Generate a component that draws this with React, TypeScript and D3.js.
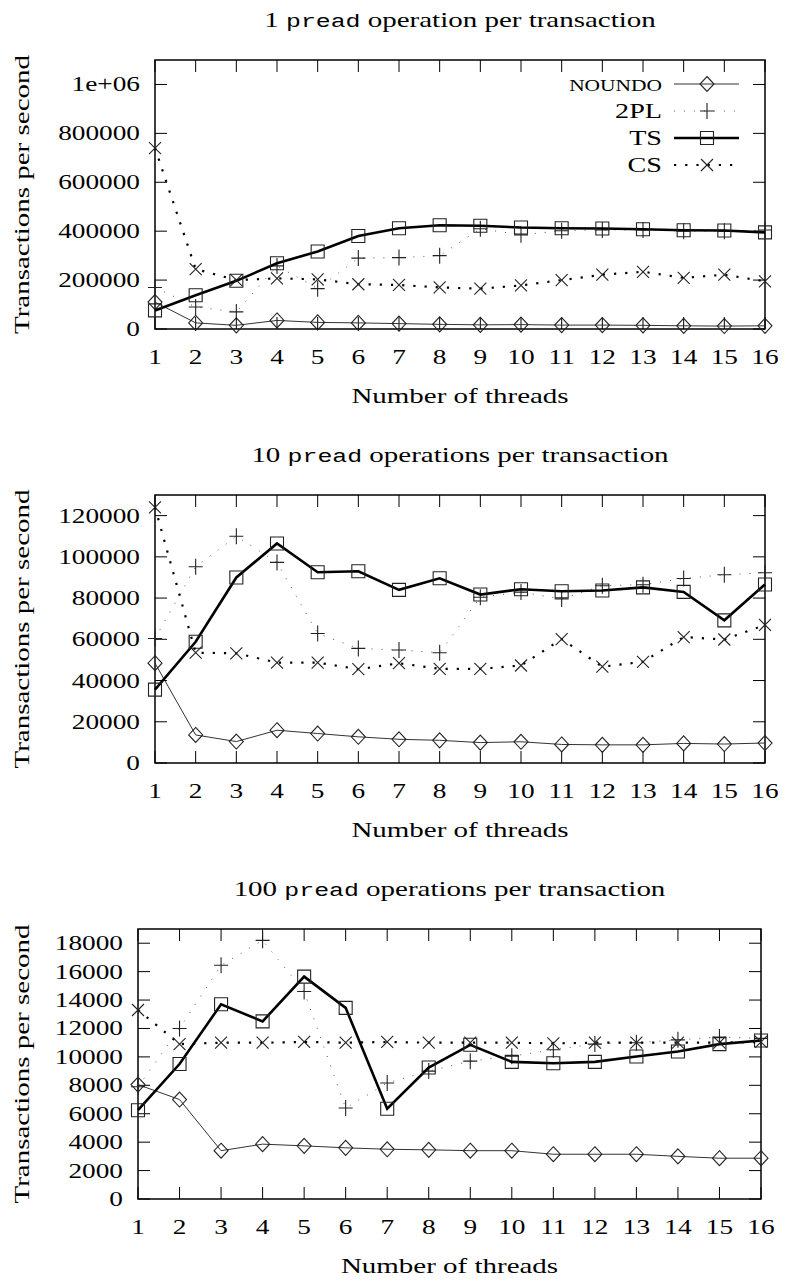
import React from "react";
import * as d3 from "d3";

const threads = [1, 2, 3, 4, 5, 6, 7, 8, 9, 10, 11, 12, 13, 14, 15, 16];
const seriesNames = ["NOUNDO", "2PL", "TS", "CS"];

// Panel 1: 1 pread operation per transaction
const p1Noundo = [110000, 25000, 15000, 35000, 27000, 25000, 22000, 19000, 17000, 18000, 16000, 16000, 15000, 13000, 12000, 13000];
const p1TwoPL = [170000, 90000, 70000, 258000, 165000, 290000, 292000, 300000, 410000, 385000, 402000, 405000, 405000, 400000, 400000, 405000];
const p1TS = [76000, 138000, 197000, 269000, 317000, 380000, 412000, 424000, 422000, 415000, 412000, 411000, 408000, 404000, 403000, 395000];
const p1CS = [740000, 245000, 200000, 207000, 203000, 183000, 180000, 170000, 165000, 178000, 200000, 222000, 234000, 209000, 222000, 195000];
const p1Ticks = [0, 200000, 400000, 600000, 800000, 1000000];
const p1TickLabels = ["0", "200000", "400000", "600000", "800000", "1e+06"];

// Panel 2: 10 pread operations per transaction
const p2Noundo = [48400, 13600, 10400, 15900, 14300, 12700, 11500, 11000, 9900, 10300, 9000, 8800, 8800, 9500, 9200, 9700];
const p2TwoPL = [60400, 95200, 110000, 97300, 62800, 55600, 54800, 53500, 80400, 82900, 79600, 86000, 86500, 89500, 91300, 92300];
const p2TS = [35600, 58800, 90000, 106500, 92500, 93000, 84000, 89600, 81700, 84300, 83300, 83700, 85200, 83000, 69200, 86600];
const p2CS = [124000, 53500, 53200, 48700, 48700, 45500, 48400, 45700, 45700, 47300, 60100, 46700, 49100, 61100, 59900, 67000];
const p2Ticks = [0, 20000, 40000, 60000, 80000, 100000, 120000];
const p2TickLabels = ["0", "20000", "40000", "60000", "80000", "100000", "120000"];

// Panel 3: 100 pread operations per transaction
const p3Noundo = [8050, 7000, 3400, 3860, 3740, 3600, 3500, 3460, 3400, 3400, 3150, 3150, 3150, 3000, 2870, 2870];
const p3TwoPL = [7900, 12000, 16450, 18200, 14600, 6400, 8160, 9000, 9700, 10050, 10500, 10900, 11000, 11200, 11400, 11300];
const p3TS = [6250, 9500, 13700, 12500, 15650, 13450, 6350, 9250, 10850, 9650, 9550, 9650, 10030, 10380, 10900, 11150];
const p3CS = [13300, 10900, 11000, 11000, 11050, 11000, 11050, 11000, 11000, 11000, 10950, 11000, 11000, 11000, 11000, 11050];
const p3Ticks = [0, 2000, 4000, 6000, 8000, 10000, 12000, 14000, 16000, 18000];
const p3TickLabels = ["0", "2000", "4000", "6000", "8000", "10000", "12000", "14000", "16000", "18000"];

const titleNumbers = ["1", "10", "100"];
const titleRests = [" operation per transaction", " operations per transaction", " operations per transaction"];
const xAxisTitle = "Number of threads";
const yAxisTitle = "Transactions per second";

const SERIF = "Liberation Serif";
const MONO = "Liberation Mono";
const SX_DIGITS = 1.3;
const SX_WORDS = 1.38;
const SX_LEGEND = 1.34;
const FS = 21;

const styles = [
  { stroke: "#333", width: 1, dash: undefined as string | undefined, marker: "diamond" },
  { stroke: "#555", width: 1, dash: "1 9", marker: "plus" },
  { stroke: "#000", width: 2.6, dash: undefined as string | undefined, marker: "square" },
  { stroke: "#000", width: 2.2, dash: "2.2 9", marker: "cross" },
];

function markerPath(kind: string): string {
  switch (kind) {
    case "diamond":
      return "M0,-7.5L7,0L0,7.5L-7,0Z";
    case "plus":
      return "M-7,0H7M0,-8V8";
    case "square":
      return "M-6.5,-6.5H6.5V6.5H-6.5Z";
    default:
      return "M-6,-6L6,6M-6,6L6,-6";
  }
}

function T(props: { x: number; y: number; anchor?: string; size?: number; rotate?: number; sx: number; children: React.ReactNode }) {
  const { x, y, anchor = "middle", size = FS, rotate = 0, sx, children } = props;
  return (
    <text
      transform={`translate(${x},${y}) rotate(${rotate}) scale(${sx},1)`}
      textAnchor={anchor}
      fontFamily={SERIF}
      fontSize={size}
      fill="#000"
    >
      {children}
    </text>
  );
}

type PanelProps = {
  idx: number;
  left: number;
  right: number;
  top: number;
  bottom: number;
  yMax: number;
  series: number[][];
  ticks: number[];
  tickLabels: string[];
  legend: boolean;
};

function Panel({ idx, left, right, top, bottom, yMax, series, ticks, tickLabels, legend }: PanelProps) {
  const x = d3.scaleLinear().domain([1, 16]).range([left, right]);
  const y = d3.scaleLinear().domain([0, yMax]).range([bottom, top]);
  const line = d3
    .line<number>()
    .x((_, i) => x(threads[i]))
    .y((d) => y(d));
  const tl = 12;
  const cx = (left + right) / 2;
  const cy = (top + bottom) / 2;

  return (
    <g>
      <T sx={SX_WORDS} x={cx} y={top - 33}>
        {titleNumbers[idx]} <tspan fontFamily={MONO} fontSize={18}>pread</tspan>
        {titleRests[idx]}
      </T>
      <T sx={SX_WORDS} x={29} y={cy} rotate={-90}>
        {yAxisTitle}
      </T>
      <T sx={SX_WORDS} x={cx} y={bottom + 74}>
        {xAxisTitle}
      </T>
      {ticks.map((t, i) => (
        <g key={"yt" + i}>
          <line x1={left} x2={left + tl} y1={y(t)} y2={y(t)} stroke="#000" strokeWidth={1} />
          <line x1={right} x2={right - tl} y1={y(t)} y2={y(t)} stroke="#000" strokeWidth={1} />
          <T sx={SX_DIGITS} x={left - 15} y={y(t) + 7} anchor="end">
            {tickLabels[i]}
          </T>
        </g>
      ))}
      {threads.map((t) => (
        <g key={"xt" + t}>
          <line x1={x(t)} x2={x(t)} y1={bottom} y2={bottom - tl} stroke="#000" strokeWidth={1} />
          <line x1={x(t)} x2={x(t)} y1={top} y2={top + tl} stroke="#000" strokeWidth={1} />
          <T sx={SX_DIGITS} x={x(t)} y={bottom + 35}>
            {String(t)}
          </T>
        </g>
      ))}
      <rect x={left} y={top} width={right - left} height={bottom - top} fill="none" stroke="#000" strokeWidth={1.5} />
      {series.map((vals, si) => {
        const st = styles[si];
        return (
          <g key={"s" + si}>
            <path d={line(vals) || ""} fill="none" stroke={st.stroke} strokeWidth={st.width} strokeDasharray={st.dash} />
            {vals.map((v, i) => (
              <path
                key={i}
                d={markerPath(st.marker)}
                transform={`translate(${x(threads[i])},${y(v)})`}
                fill="none"
                stroke="#222"
                strokeWidth={1.1}
              />
            ))}
          </g>
        );
      })}
      {legend &&
        seriesNames.map((name, si) => {
          const st = styles[si];
          const ly = top + 24 + si * 27;
          const lx0 = right - 91;
          const lx1 = right - 26;
          const lm = right - 58;
          return (
            <g key={"lg" + si}>
              <T sx={SX_LEGEND} x={right - 103} y={ly + 7} anchor="end" size={si === 0 ? 16 : FS}>
                {name}
              </T>
              <line x1={lx0} x2={lx1} y1={ly} y2={ly} stroke={st.stroke} strokeWidth={st.width} strokeDasharray={st.dash} />
              <path d={markerPath(st.marker)} transform={`translate(${lm},${ly})`} fill="none" stroke="#222" strokeWidth={1.1} />
            </g>
          );
        })}
    </g>
  );
}

export default function App() {
  return (
    <svg width={786} height={1282} style={{ display: "block", background: "#fff", marginLeft: -8, marginTop: -8 }}>
      <rect width={786} height={1282} fill="#fff" />
      <Panel idx={0} left={155} right={765} top={60} bottom={329} yMax={1100000}
        series={[p1Noundo, p1TwoPL, p1TS, p1CS]} ticks={p1Ticks} tickLabels={p1TickLabels} legend={true} />
      <Panel idx={1} left={155} right={765} top={495} bottom={763} yMax={130000}
        series={[p2Noundo, p2TwoPL, p2TS, p2CS]} ticks={p2Ticks} tickLabels={p2TickLabels} legend={false} />
      <Panel idx={2} left={138} right={761} top={929} bottom={1199} yMax={19000}
        series={[p3Noundo, p3TwoPL, p3TS, p3CS]} ticks={p3Ticks} tickLabels={p3TickLabels} legend={false} />
    </svg>
  );
}
